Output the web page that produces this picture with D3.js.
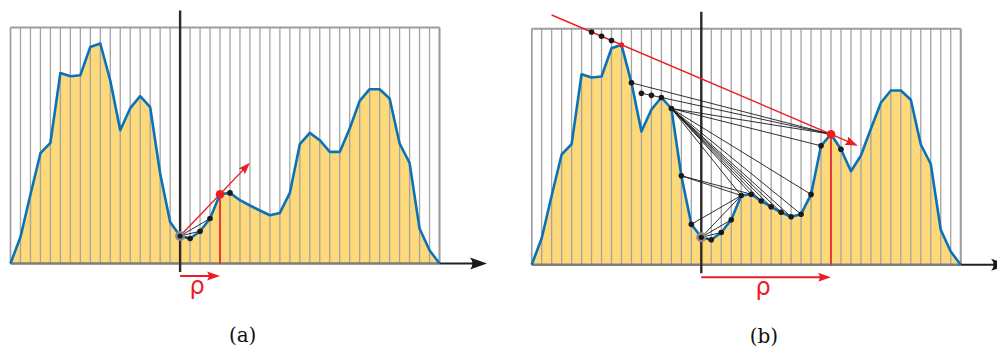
<!DOCTYPE html>
<html><head><meta charset="utf-8">
<script src="https://cdn.jsdelivr.net/npm/d3@7"></script>
<style>html,body{margin:0;padding:0;background:#fff}</style>
</head><body>
<svg id="chart" width="997" height="347"></svg>
<script>
// ---- data ----
const idx = d3.range(44);            // sample index (categories)
const heightA = [0,26.5,69,110.3,120.7,190.5,187.3,188.3,216.6,220,183,133.3,155.3,167.3,156.3,90,41.5,27.5,25,32.3,45,69.3,70.6,63.3,58,53,48.3,50.6,70.6,119.3,130.6,123.3,111.6,111.6,135,162.6,174.3,174.3,165,120,100.6,35,13.3,0];
const heightB = [0,26.5,69,110.3,120.7,190.5,187.3,188.3,216.6,220,182,133.3,155.3,167.3,156.3,89,40.5,27.5,25,32.3,45,69.3,70.6,63.8,58,52.5,48,50.6,70.4,119,130.6,115.6,93.6,109.3,136,162,174.3,174.3,165,120.3,100.8,35,13.3,0];
const originIdx = 17;                 // vertical axis / start of rho
const targetA = 21, targetB = 30;     // end of rho
const linksA = [[17,18],[17,19],[17,20]];
const dotsA = [18,19,20,22];
const linksB = [[10,30],[14,30],[14,29],[14,21],[14,22],[14,23],[14,24],[14,25],[14,26],[14,27],[14,28],[15,21],[15,22],[16,21],[17,18],[17,19],[17,20],[17,21]];
const dotsB = [10,13,14,15,16,18,19,20,21,22,23,24,25,26,27,28,29,31];
const extLineB1 = {from:9, to:30, dots:[6,7,8], start:2, end:32.7};  // red tangent line
const extLineB2 = {from:13, to:30, dots:[11,12], start:11};
const labels = ["(a)","(b)"];
const rhoLabel = "ρ";

// ---- layout ----
const W = 429, H = 236;
const svg = d3.select("#chart");
const x = d3.scaleLinear().domain([0,43]).range([0,W]);
const y = d3.scaleLinear().domain([0,236]).range([H,0]);
const RED = "#ec1c24", BLUE = "#0a72b8", FILL = "#fdd979", GRID = "#a3a3a3";

function arrowHead(g, tx, ty, ang, L, w, color){
  g.append("path")
    .attr("d", `M0,0 L${-L},${-w/2} Q${-0.72*L},0 ${-L},${w/2} Z`)
    .attr("fill", color)
    .attr("transform", `translate(${tx},${ty}) rotate(${ang*180/Math.PI})`);
}

function panel(ox, oy, data, target, links, dots, which){
  const g = svg.append("g").attr("transform", `translate(${ox},${oy})`);
  const area = d3.area().x((d,i)=>x(i)).y0(y(0)).y1(d=>y(d));
  const line = d3.line().x((d,i)=>x(i)).y(d=>y(d));
  g.append("path").datum(data).attr("d", area).attr("fill", FILL);
  // grid
  g.selectAll("line.grid").data(idx).join("line")
    .attr("x1", d=>x(d)).attr("x2", d=>x(d)).attr("y1", 0).attr("y2", H)
    .attr("stroke", GRID).attr("stroke-width", 1.3);
  g.append("line").attr("x1",0).attr("x2",W).attr("y1",0).attr("y2",0).attr("stroke","#9d9d9d").attr("stroke-width",2);
  g.append("line").attr("x1",W).attr("x2",W).attr("y1",0).attr("y2",H).attr("stroke","#9d9d9d").attr("stroke-width",2);
  g.append("line").attr("x1",0).attr("x2",0).attr("y1",0).attr("y2",H).attr("stroke","#9d9d9d").attr("stroke-width",1.5);
  // baseline + x axis
  g.append("line").attr("x1",0).attr("x2",W).attr("y1",H).attr("y2",H).attr("stroke","#7d7d7d").attr("stroke-width",2.5);
  g.append("line").attr("x1",W).attr("x2",W+38).attr("y1",H).attr("y2",H).attr("stroke","#222").attr("stroke-width",2);
  arrowHead(g, W+47.5, H, 0, 17, 12, "#1a1a1a");
  // curve
  g.append("path").datum(data).attr("d", line).attr("fill","none")
    .attr("stroke", BLUE).attr("stroke-width", 2.6).attr("stroke-linejoin","round");
  // vertical axis
  g.append("line").attr("x1",x(originIdx)).attr("x2",x(originIdx)).attr("y1",-17).attr("y2",H+8.5)
    .attr("stroke","#2b2b2b").attr("stroke-width",2.4);

  const P = i => [x(i), y(data[i])];
  // thin black links
  g.selectAll("line.link").data(links).join("line")
    .attr("x1", d=>P(d[0])[0]).attr("y1", d=>P(d[0])[1])
    .attr("x2", d=>P(d[1])[0]).attr("y2", d=>P(d[1])[1])
    .attr("stroke","#1a1a1a").attr("stroke-width",0.9);

  const onLine = (a,b,t) => { const [x1,y1]=P(a),[x2,y2]=P(b); const s=(y2-y1)/(x2-x1); return [x(t), y1 + s*(x(t)-x1)]; };

  if (which === 0){
    const [sx,sy] = P(originIdx); const [ex,ey] = onLine(originIdx, target, 24);
    const ang = Math.atan2(ey-sy, ex-sx);
    g.append("line").attr("x1",sx).attr("y1",sy).attr("x2",ex-8*Math.cos(ang)).attr("y2",ey-8*Math.sin(ang))
      .attr("stroke",RED).attr("stroke-width",1.4);
    arrowHead(g, ex, ey, ang, 12, 8.5, RED);
  } else {
    const e1 = extLineB1;
    const [sx,sy] = onLine(e1.from, e1.to, e1.start); const [ex,ey] = onLine(e1.from, e1.to, e1.end);
    const ang = Math.atan2(ey-sy, ex-sx);
    g.append("line").attr("x1",sx).attr("y1",sy).attr("x2",ex-8*Math.cos(ang)).attr("y2",ey-8*Math.sin(ang))
      .attr("stroke",RED).attr("stroke-width",1.4);
    arrowHead(g, ex, ey, ang, 13, 9, RED);
    const e2 = extLineB2;
    const [s2x,s2y] = onLine(e2.from, e2.to, e2.start); const [t2x,t2y] = P(e2.to);
    g.append("line").attr("x1",s2x).attr("y1",s2y).attr("x2",t2x).attr("y2",t2y)
      .attr("stroke","#1a1a1a").attr("stroke-width",0.9);
    e1.dots.forEach(t=>{ const [px,py]=onLine(e1.from,e1.to,t); g.append("circle").attr("cx",px).attr("cy",py).attr("r",2.8).attr("fill","#1a1a1a"); });
    e2.dots.forEach(t=>{ const [px,py]=onLine(e2.from,e2.to,t); g.append("circle").attr("cx",px).attr("cy",py).attr("r",2.8).attr("fill","#1a1a1a"); });
    g.append("circle").attr("cx",P(e1.from)[0]).attr("cy",P(e1.from)[1]).attr("r",2.6).attr("fill",RED);
  }
  // red vertical at target
  g.append("line").attr("x1",x(target)).attr("x2",x(target)).attr("y1",y(data[target])).attr("y2",H)
    .attr("stroke",RED).attr("stroke-width",1.6);
  // dots
  g.selectAll("circle.dot").data(dots).join("circle")
    .attr("cx", d=>P(d)[0]).attr("cy", d=>P(d)[1]).attr("r", 2.8).attr("fill","#1a1a1a");
  g.append("circle").attr("cx",P(originIdx)[0]).attr("cy",P(originIdx)[1]).attr("r",5).attr("fill","#8a8a8a");
  g.append("circle").attr("cx",P(originIdx)[0]).attr("cy",P(originIdx)[1]).attr("r",2.6).attr("fill","#1a1a1a");
  g.append("circle").attr("cx",P(target)[0]).attr("cy",P(target)[1]).attr("r",4.3).attr("fill",RED);

  // rho arrow
  const ry = H + 12.5;
  g.append("line").attr("x1",x(originIdx)).attr("x2",x(target)-8).attr("y1",ry).attr("y2",ry)
    .attr("stroke",RED).attr("stroke-width",2);
  arrowHead(g, x(target), ry, 0, 13, 9, RED);
  g.append("text").attr("x",(x(originIdx)+x(target))/2 - 3).attr("y", H+30)
    .attr("text-anchor","middle").attr("fill",RED)
    .style("font-family","'DejaVu Sans', sans-serif").style("font-size","24px").text(rhoLabel);
  g.append("text").attr("x", W*0.54+0.5).attr("y", H+78.5).attr("text-anchor","middle").attr("fill","#111")
    .style("font-family","'DejaVu Serif', serif").style("font-size","20px").text(labels[which]);
}

panel(10.5, 27.5, heightA, targetA, linksA, dotsA, 0);
panel(531.7, 28.8, heightB, targetB, linksB, dotsB, 1);
</script>
</body></html>
